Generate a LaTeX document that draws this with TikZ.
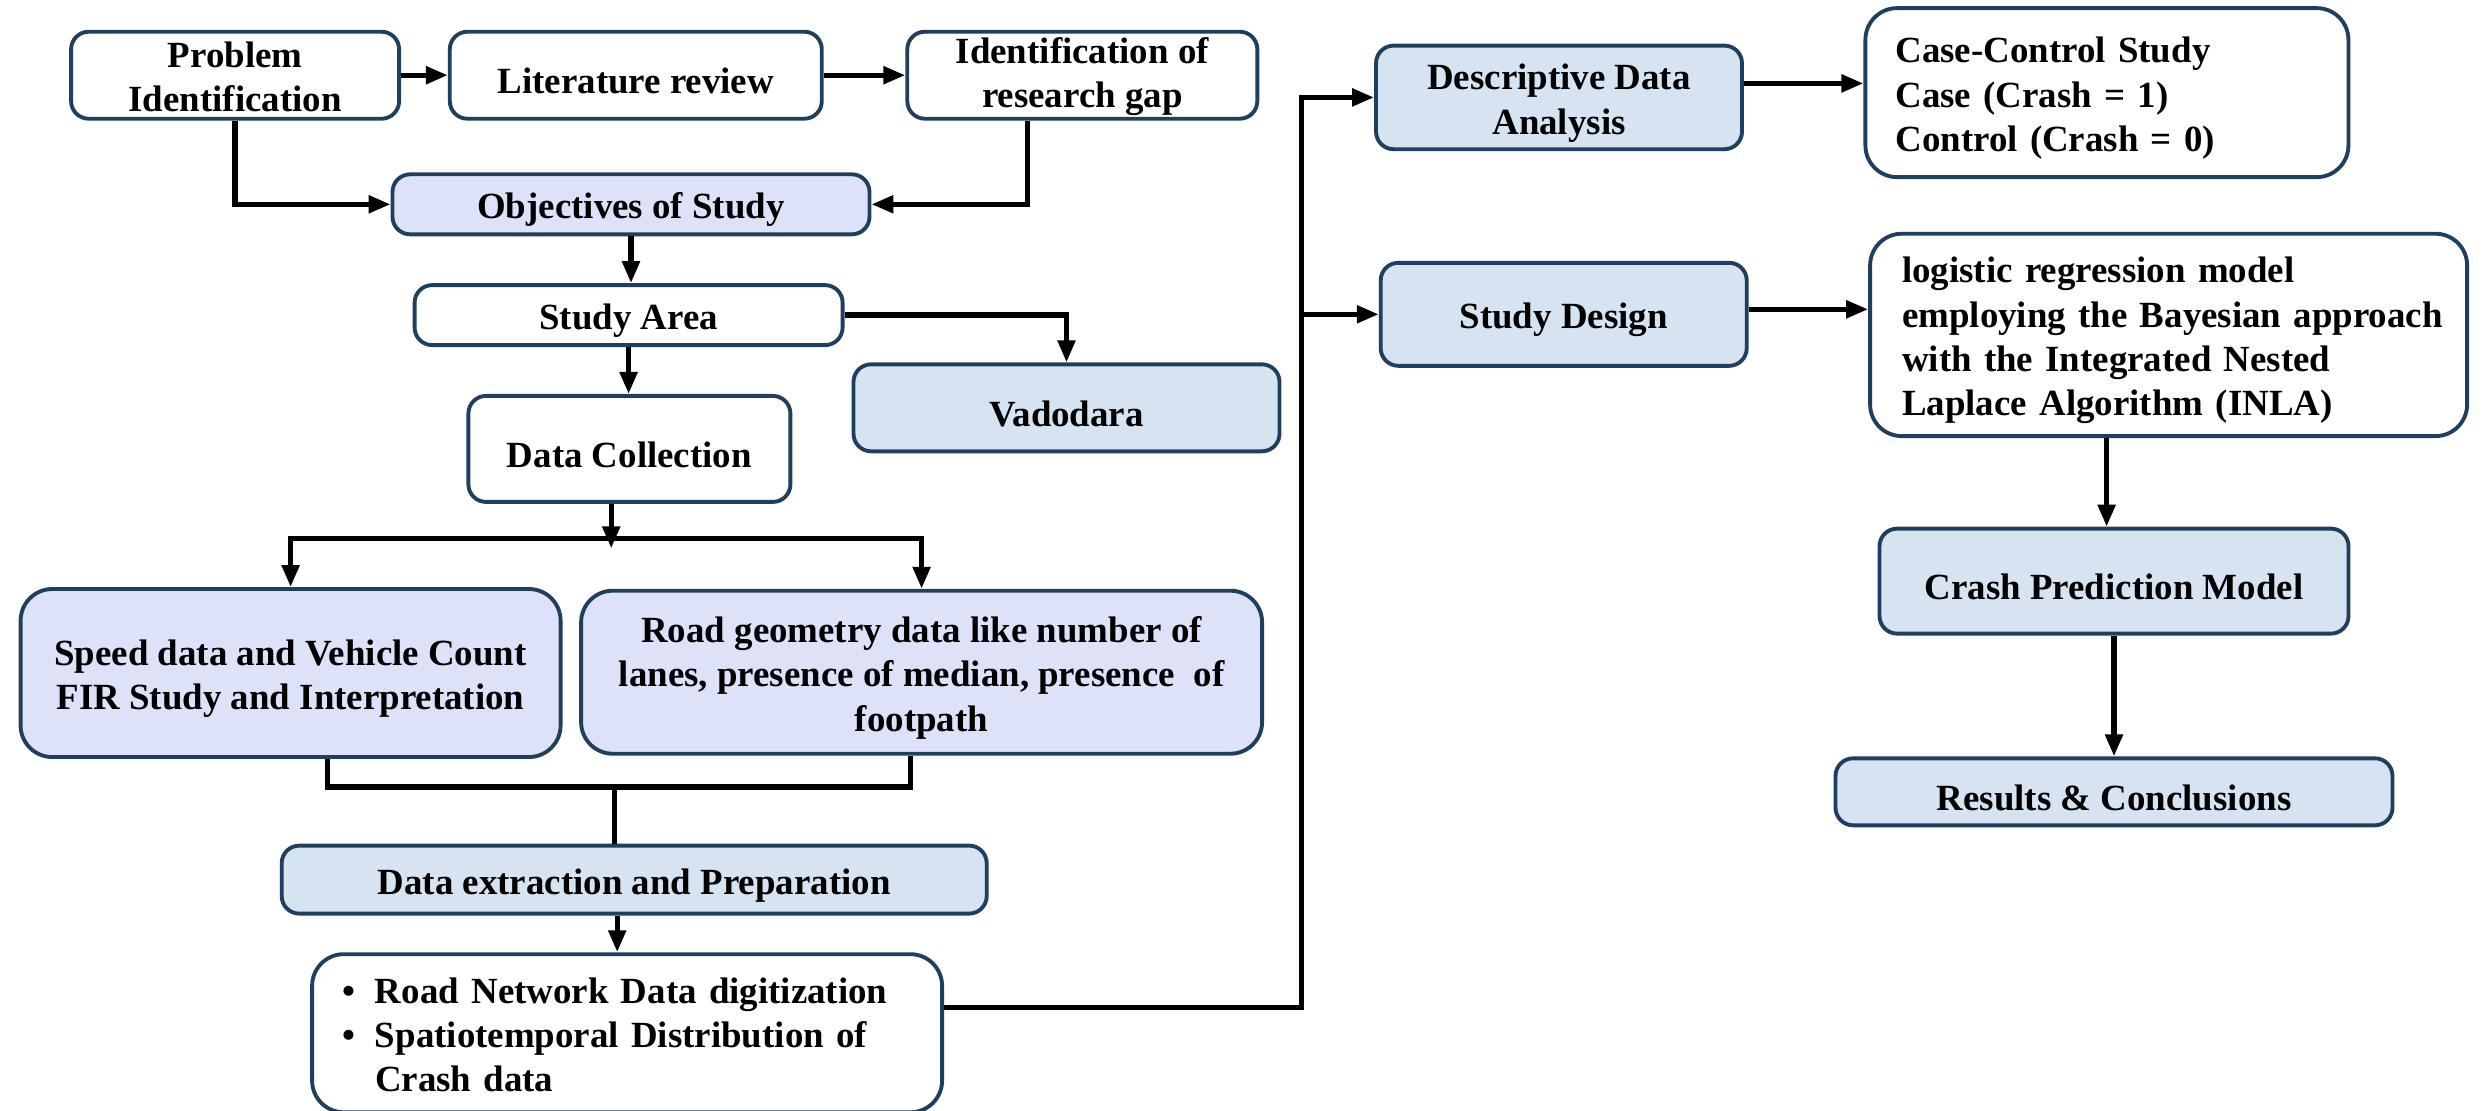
\documentclass[tikz,border=0pt]{standalone}
\usepackage{fontspec}
\setmainfont{Liberation Serif}
\usepackage{xcolor}
\usepackage{tikz}
\usetikzlibrary{arrows.meta,positioning,calc}

\definecolor{edge}{HTML}{203F5E}
\definecolor{lav}{HTML}{DDE2F8}
\definecolor{sky}{HTML}{D6E3F1}
\newcommand{\topstrut}{\rule{0pt}{10.6pt}}

\begin{document}
\begin{tikzpicture}[
  box/.style={draw=edge, line width=1.1pt, rounded corners=5pt, align=center, inner sep=2pt, fill=white, font=\fontsize{10.5pt}{12.6pt}\selectfont\bfseries, execute at begin node={\topstrut}},
  big/.style={box, rounded corners=9pt},
  arr/.style={-{Triangle[length=2.2mm, width=1.7mm]}, line width=1.5pt},
  link/.style={line width=1.5pt}
]
\useasboundingbox (0,0) rectangle (24.83,-11.10);

\node[box, minimum width=3.28cm, minimum height=0.87cm, inner ysep=0pt] (prob) at (2.351,-0.752) {\rule{0pt}{8.2pt}Problem\\Identification};
\node[box, minimum width=3.72cm, minimum height=0.87cm] (lit) at (6.358,-0.752) {Literature review};
\node[box, minimum width=3.50cm, minimum height=0.87cm, inner ysep=0pt] (gap) at (10.823,-0.752) {\rule{0pt}{8.2pt}Identification of\\research gap};

\node[box, fill=lav, minimum width=4.77cm, minimum height=0.60cm] (obj) at (6.310,-2.043) {Objectives of Study};
\node[box, minimum width=4.28cm, minimum height=0.60cm] (area) at (6.286,-3.151) {Study Area};
\node[box, fill=sky, minimum width=4.26cm, minimum height=0.87cm] (vad) at (10.665,-4.078) {Vadodara};
\node[box, minimum width=3.22cm, minimum height=1.06cm] (dc) at (6.294,-4.489) {Data Collection};

\node[big, fill=lav, minimum width=5.40cm, minimum height=1.68cm] (speed) at (2.906,-6.730) {\topstrut Speed data and Vehicle Count\\FIR Study and Interpretation};
\node[big, fill=lav, minimum width=6.81cm, minimum height=1.63cm] (road) at (9.216,-6.722) {\topstrut Road geometry data like number of\\lanes, presence of median, presence\ \ of\\footpath};
\node[box, fill=sky, minimum width=7.05cm, minimum height=0.68cm] (prep) at (6.342,-8.796) {Data extraction and Preparation};
\node[big, minimum width=6.30cm, minimum height=1.50cm, text width=5.70cm, align=left] (dig) at (6.271,-10.332)
  {\begin{tabular}{@{}l@{\hspace{0.2cm}}l@{}}
   \rule{0pt}{12pt}\textbullet & Road Network Data digitization\\
   \textbullet & Spatiotemporal Distribution of\\
               & Crash data
   \end{tabular}};

\node[box, fill=sky, minimum width=3.66cm, minimum height=1.03cm] (desc) at (15.590,-0.974) {\topstrut Descriptive Data\\Analysis};
\node[big, minimum width=4.83cm, minimum height=1.69cm, text width=4.23cm, align=left] (case) at (21.069,-0.926)
  {\begin{tabular}{@{}l@{}}\rule{0pt}{12pt}Case-Control Study\\Case (Crash = 1)\\Control (Crash = 0)\end{tabular}};
\node[box, fill=sky, minimum width=3.66cm, minimum height=1.03cm] (design) at (15.637,-3.143) {Study Design};
\node[big, minimum width=5.97cm, minimum height=2.01cm, text width=5.33cm, align=left] (logi) at (21.686,-3.349)
  {\begin{tabular}{@{}l@{}}\rule{0pt}{12pt}logistic regression model\\employing the Bayesian approach\\with the Integrated Nested\\Laplace Algorithm (INLA)\end{tabular}};
\node[box, fill=sky, minimum width=4.69cm, minimum height=1.05cm] (cpm) at (21.140,-5.811) {Crash Prediction Model};
\node[box, fill=sky, minimum width=5.57cm, minimum height=0.67cm] (res) at (21.140,-7.918) {Results \& Conclusions};

\coordinate (split) at (6.112,-5.384);
\coordinate (merge) at (6.144,-7.870);
\coordinate (bus) at (13.016,-3.143);

\draw[arr] (prob) -- (lit);
\draw[arr] (lit) -- (gap);
\draw[arr] (prob.south) |- (obj.west);
\draw[arr] ([xshift=-0.55cm]gap.south) |- (obj.east);
\draw[arr] (obj.south) -- (obj.south |- area.north);
\draw[arr] (area.east) -| (vad.north);
\draw[arr] (area.south) -- (area.south |- dc.north);
\draw[arr] (split |- dc.south) -- ([yshift=-0.1cm]split);
\draw[arr] (split) -| (speed.north);
\draw[arr] (split) -| (road.north);
\draw[link] ([xshift=0.37cm]speed.south) |- (merge) -| ([xshift=-0.11cm]road.south);
\draw[link] (merge) -- (merge |- prep.north);
\draw[arr] ([xshift=-0.17cm]prep.south) -- ([xshift=-0.17cm]prep.south |- dig.north);
\draw[arr] ([yshift=0.26cm]dig.east) -| (bus |- desc.west) -- (desc.west);
\draw[arr] (bus) -- (design.west);
\draw[arr] ([yshift=0.14cm]desc.east) -- ([yshift=0.14cm]desc.east -| case.west);
\draw[arr] ([yshift=0.05cm]design.east) -- ([yshift=0.05cm]design.east -| logi.west);
\draw[arr] ([xshift=-0.62cm]logi.south) -- ([xshift=-0.62cm]logi.south |- cpm.north);
\draw[arr] (cpm) -- (res);

\end{tikzpicture}
\end{document}
